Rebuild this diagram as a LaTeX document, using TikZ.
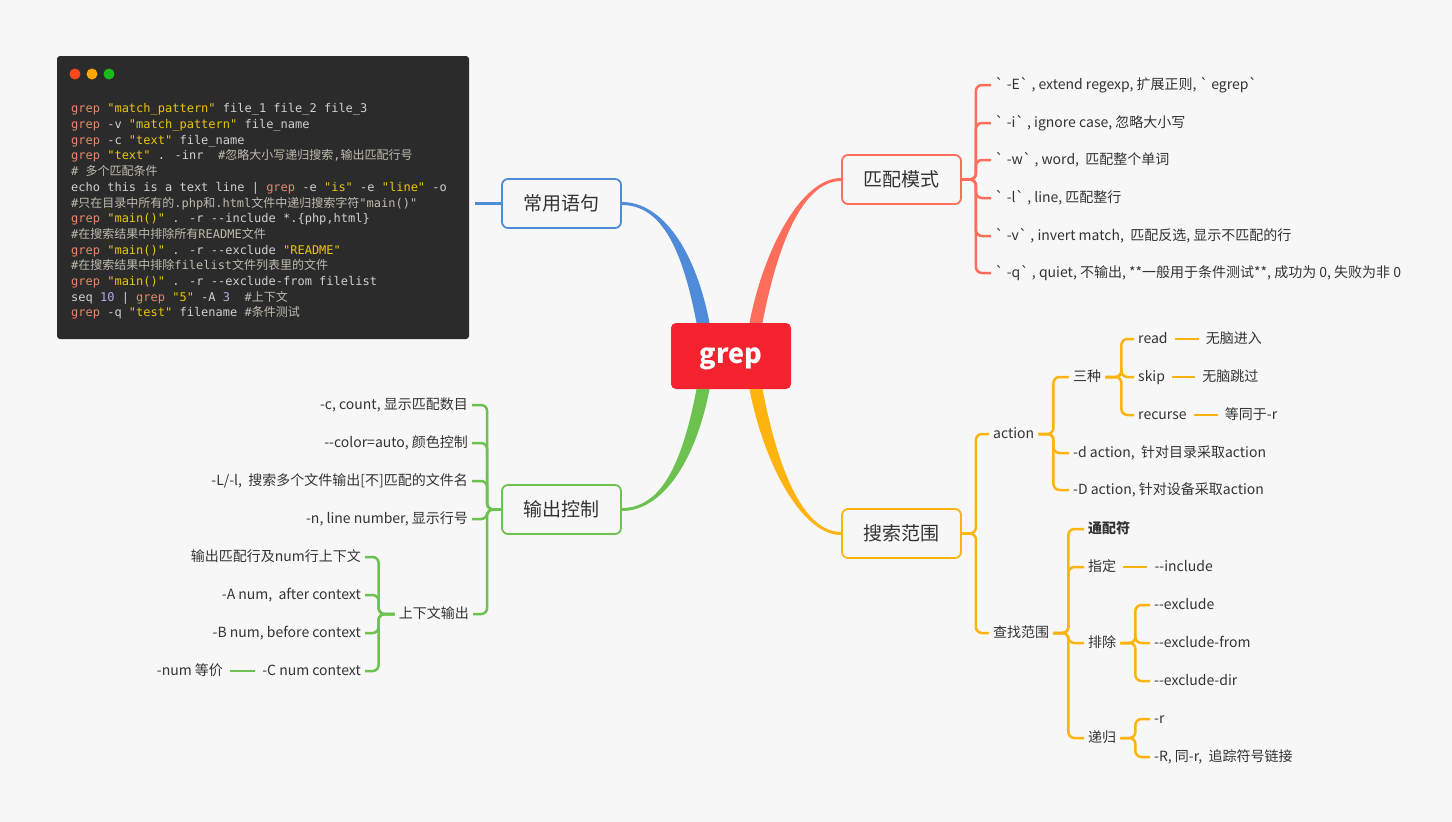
\documentclass[tikz,border=0pt]{standalone}
\usepackage{fontspec}
\newfontfamily\cjk{Noto Sans CJK SC}
\newfontfamily\codefont{DejaVu Sans Mono}
\usetikzlibrary{positioning,calc}

\definecolor{bgc}{HTML}{F7F7F7}
\definecolor{rootred}{HTML}{F52230}
\definecolor{usagec}{HTML}{4F8BD9}
\definecolor{matchc}{HTML}{FF6D5B}
\definecolor{outputc}{HTML}{6CC14F}
\definecolor{scopec}{HTML}{FFB30F}
\definecolor{txt}{HTML}{333333}
\definecolor{codebg}{HTML}{2B2B2B}
\definecolor{codefg}{HTML}{D0D0D0}
\definecolor{codekwc}{HTML}{E58A6E}
\definecolor{codestrc}{HTML}{E8C60E}
\definecolor{codecmtc}{HTML}{BFBBAE}
\definecolor{codenumc}{HTML}{B8A9E8}

\newcommand{\zh}[1]{{\cjk #1}}
\newcommand{\codekw}[1]{\textcolor{codekwc}{#1}}
\newcommand{\codestr}[1]{\textcolor{codestrc}{#1}}
\newcommand{\codecmt}[1]{\textcolor{codecmtc}{#1}}
\newcommand{\codenum}[1]{\textcolor{codenumc}{#1}}

\begin{document}
\begin{tikzpicture}[
    x=1pt, y=-1pt,
    root/.style={rectangle, rounded corners=5pt, fill=rootred, text=white, minimum width=120pt, minimum height=66pt, text height=14pt, text depth=0pt, font=\cjk\bfseries\fontsize{27}{30}\selectfont},
    topic/.style={rectangle, rounded corners=6pt, draw, line width=1.8pt, fill=bgc, text=txt, minimum width=119pt, minimum height=49pt, font=\cjk\fontsize{19}{22}\selectfont},
    leaf/.style={inner xsep=4pt, inner ysep=2pt, text height=11.5pt, text depth=2.5pt, text=txt, font=\cjk\fontsize{14}{16}\selectfont},
    link/.style={line width=2.5pt, rounded corners=6pt},
    tie/.style={line width=2.5pt, shorten <=3pt, shorten >=3pt},
    codebox/.style={rectangle, rounded corners=3pt, fill=codebg, minimum width=412pt, minimum height=283pt, inner sep=0pt},
    codetext/.style={align=left, inner sep=0pt, text=codefg, font=\codefont\fontsize{12}{15.7}\selectfont}
  ]
    \useasboundingbox (0,0) rectangle (1452,822);
    \fill[bgc] (0,0) rectangle (1452,822);

    % centre and main topics
    \node[root] (grep) at (731,356) {grep};
    \node[topic, draw=usagec] (usage) at (561.5,203.5) {常用语句};
    \node[topic, draw=matchc] (match) at (901.5,179.5) {匹配模式};
    \node[topic, draw=outputc] (output) at (561.5,509.5) {输出控制};
    \node[topic, draw=scopec] (scope) at (901.5,533.5) {搜索范围};

    % tapered main branches
    \fill[usagec] ($(grep.north)+(-34.5,0)$) .. controls +(-14,-73) and +(40,0) .. ($(usage.east)+(0,1.5)$)
      -- ($(usage.east)+(0,-1.5)$) .. controls +(40,0) and +(-14,-73) .. ($(grep.north)+(-21.5,0)$) -- cycle;
    \fill[matchc] ($(grep.north)+(18.5,0)$) .. controls +(14,-73) and +(-40,0) .. ($(match.west)+(0,-1.5)$)
      -- ($(match.west)+(0,1.5)$) .. controls +(-40,0) and +(14,-73) .. ($(grep.north)+(31.5,0)$) -- cycle;
    \fill[outputc] ($(grep.south)+(-34.5,0)$) .. controls +(-14,73) and +(40,0) .. ($(output.east)+(0,-1.5)$)
      -- ($(output.east)+(0,1.5)$) .. controls +(40,0) and +(-14,73) .. ($(grep.south)+(-21.5,0)$) -- cycle;
    \fill[scopec] ($(grep.south)+(31.5,0)$) .. controls +(14,73) and +(-40,0) .. ($(scope.west)+(0,-1.5)$)
      -- ($(scope.west)+(0,1.5)$) .. controls +(-40,0) and +(14,73) .. ($(grep.south)+(18.5,0)$) -- cycle;

    % code snippet
    \node[codebox] (code) at (263,197.5) {};
    \fill[red!60!orange!90] (75,74) circle (5.5pt);
    \fill[orange!70!yellow] (92,74) circle (5.5pt);
    \fill[green!70!black!90] (109,74) circle (5.5pt);
    \node[codetext, anchor=north west] (lines) at (71,103.5) {%
      \codekw{grep} \codestr{"match\_pattern"} file\_1 file\_2 file\_3\\
      \codekw{grep} -v \codestr{"match\_pattern"} file\_name\\
      \codekw{grep} -c \codestr{"text"} file\_name\\
      \codekw{grep} \codestr{"text"} . -inr~~\codecmt{\#\zh{忽略大小写递归搜索},\zh{输出匹配行号}}\\
      \codecmt{\#~\zh{多个匹配条件}}\\
      echo this is a text line | \codekw{grep} -e \codestr{"is"} -e \codestr{"line"} -o\\
      \codecmt{\#\zh{只在目录中所有的}.php\zh{和}.html\zh{文件中递归搜索字符}"main()"}\\
      \codekw{grep} \codestr{"main()"} . -r -{}-include *.\{php,html\}\\
      \codecmt{\#\zh{在搜索结果中排除所有}README\zh{文件}}\\
      \codekw{grep} \codestr{"main()"} . -r -{}-exclude \codestr{"README"}\\
      \codecmt{\#\zh{在搜索结果中排除}filelist\zh{文件列表里的文件}}\\
      \codekw{grep} \codestr{"main()"} . -r -{}-exclude-from filelist\\
      seq \codenum{10} | \codekw{grep} \codestr{"5"} -A \codenum{3}~~\codecmt{\#\zh{上下文}}\\
      \codekw{grep} -q \codestr{"test"} filename \codecmt{\#\zh{条件测试}}};
    \draw[line width=2.5pt, usagec, shorten >=6pt] (usage.west) -- (usage.west -| code.east);

    % match pattern leaves
    \node[leaf, anchor=west] (m1) at (991,85) {` -E` , extend regexp, 扩展正则, ` egrep`};
    \node[leaf, anchor=west] (m2) at (991,123) {` -i` , ignore case, 忽略大小写};
    \node[leaf, anchor=west] (m3) at (991,160) {` -w` , word,~ 匹配整个单词};
    \node[leaf, anchor=west] (m4) at (991,198) {` -l` , line, 匹配整行};
    \node[leaf, anchor=west] (m5) at (991,236) {` -v` , invert match,~ 匹配反选, 显示不匹配的行};
    \node[leaf, anchor=west] (m6) at (991,273) {` -q` , quiet, 不输出, **一般用于条件测试**, 成功为 0, 失败为非 0};
    \draw[link, matchc] (match.east) -- ++(14,0) |- (m1.west);
    \draw[link, matchc] (match.east) -- ++(14,0) |- (m2.west);
    \draw[link, matchc] (match.east) -- ++(14,0) |- (m3.west);
    \draw[link, matchc] (match.east) -- ++(14,0) |- (m4.west);
    \draw[link, matchc] (match.east) -- ++(14,0) |- (m5.west);
    \draw[link, matchc] (match.east) -- ++(14,0) |- (m6.west);

    % search scope leaves
    \node[leaf, anchor=west] (action) at (989,434) {action};
    \node[leaf, anchor=west] (find) at (989,633) {查找范围};
    \draw[link, scopec] (scope.east) -- ++(14,0) |- (action.west);
    \draw[link, scopec] (scope.east) -- ++(14,0) |- (find.west);

    \node[leaf, anchor=west] (three) at (1069,377) {三种};
    \node[leaf, anchor=west] (dact) at (1069,453) {-d action,~ 针对目录采取action};
    \node[leaf, anchor=west] (Dact) at (1069,490) {-D action, 针对设备采取action};
    \draw[link, scopec] (action.east) -- ++(15,0) |- (three.west);
    \draw[link, scopec] (action.east) -- ++(15,0) |- (dact.west);
    \draw[link, scopec] (action.east) -- ++(15,0) |- (Dact.west);

    \node[leaf, anchor=west] (read) at (1134,339) {read};
    \node[leaf, anchor=west] (skip) at (1134,377) {skip};
    \node[leaf, anchor=west] (recurse) at (1134,415) {recurse};
    \draw[link, scopec] (three.east) -- ++(16,0) |- (read.west);
    \draw[link, scopec] (three.east) -- ++(16,0) |- (skip.west);
    \draw[link, scopec] (three.east) -- ++(16,0) |- (recurse.west);
    \node[leaf, right=30pt of read] (readv) {无脑进入};
    \node[leaf, right=29pt of skip] (skipv) {无脑跳过};
    \node[leaf, right=30pt of recurse] (recursev) {等同于-r};
    \draw[tie, scopec] (read) -- (readv);
    \draw[tie, scopec] (skip) -- (skipv);
    \draw[tie, scopec] (recurse) -- (recursev);

    \node[leaf, anchor=west, font=\cjk\bfseries\fontsize{14}{16}\selectfont] (wild) at (1084,529) {通配符};
    \node[leaf, anchor=west] (spec) at (1084,567) {指定};
    \node[leaf, anchor=west] (excl) at (1084,643) {排除};
    \node[leaf, anchor=west] (recur) at (1084,738) {递归};
    \draw[link, scopec] (find.east) -- ++(15,0) |- (wild.west);
    \draw[link, scopec] (find.east) -- ++(15,0) |- (spec.west);
    \draw[link, scopec] (find.east) -- ++(15,0) |- (excl.west);
    \draw[link, scopec] (find.east) -- ++(15,0) |- (recur.west);
    \node[leaf, right=30pt of spec] (incl) {-{}-include};
    \draw[tie, scopec] (spec) -- (incl);

    \node[leaf, anchor=west] (ex1) at (1150,605) {-{}-exclude};
    \node[leaf, anchor=west] (ex2) at (1150,643) {-{}-exclude-from};
    \node[leaf, anchor=west] (ex3) at (1150,681) {-{}-exclude-dir};
    \draw[link, scopec] (excl.east) -- ++(15,0) |- (ex1.west);
    \draw[link, scopec] (excl.east) -- ++(15,0) |- (ex2.west);
    \draw[link, scopec] (excl.east) -- ++(15,0) |- (ex3.west);
    \node[leaf, anchor=west] (r1) at (1150,719) {-r};
    \node[leaf, anchor=west] (r2) at (1150,757) {-R, 同-r,~ 追踪符号链接};
    \draw[link, scopec] (recur.east) -- ++(15,0) |- (r1.west);
    \draw[link, scopec] (recur.east) -- ++(15,0) |- (r2.west);

    % output control leaves
    \node[leaf, anchor=east] (o1) at (472,405) {-c, count, 显示匹配数目};
    \node[leaf, anchor=east] (o2) at (472,443) {-{}-color=auto, 颜色控制};
    \node[leaf, anchor=east] (o3) at (472,481) {-L/-l,~ 搜索多个文件输出[不]匹配的文件名};
    \node[leaf, anchor=east] (o4) at (472,519) {-n, line number, 显示行号};
    \node[leaf, anchor=east] (ctx) at (473,614) {上下文输出};
    \draw[link, outputc] (output.west) -- ++(-14,0) |- (o1.east);
    \draw[link, outputc] (output.west) -- ++(-14,0) |- (o2.east);
    \draw[link, outputc] (output.west) -- ++(-14,0) |- (o3.east);
    \draw[link, outputc] (output.west) -- ++(-14,0) |- (o4.east);
    \draw[link, outputc] (output.west) -- ++(-14,0) |- (ctx.east);

    \node[leaf, anchor=east] (c1) at (365,557) {输出匹配行及num行上下文};
    \node[leaf, anchor=east] (c2) at (365,595) {-A num,~ after context};
    \node[leaf, anchor=east] (c3) at (365,633) {-B num, before context};
    \node[leaf, anchor=east] (c4) at (365,671) {-C num context};
    \draw[link, outputc] (ctx.west) -- ++(-16,0) |- (c1.east);
    \draw[link, outputc] (ctx.west) -- ++(-16,0) |- (c2.east);
    \draw[link, outputc] (ctx.west) -- ++(-16,0) |- (c3.east);
    \draw[link, outputc] (ctx.west) -- ++(-16,0) |- (c4.east);
    \node[leaf, left=31pt of c4] (same) {-num 等价};
    \draw[tie, outputc] (c4) -- (same);
  \end{tikzpicture}
\end{document}
